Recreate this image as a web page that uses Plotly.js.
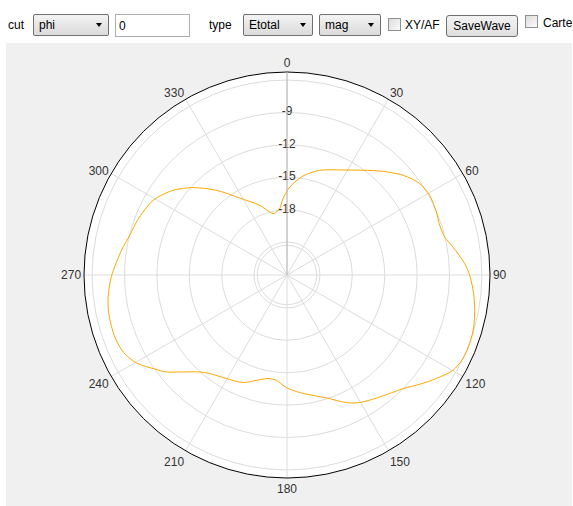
<!DOCTYPE html>
<html>
<head>
<meta charset="utf-8">
<script src="https://cdn.plot.ly/plotly-3.0.1.min.js"></script>
<style>
  html, body { margin: 0; padding: 0; background: #ffffff; }
  body { width: 573px; height: 506px; position: relative; overflow: hidden;
         font-family: "Liberation Sans", Arial, sans-serif; font-size: 12px; color: #000; }
  .lbl { position: absolute; line-height: 14px; }
  .sel { position: absolute; height: 22px; box-sizing: border-box; border: 1px solid #707070; border-radius: 2px;
         background: linear-gradient(#f4f4f4, #e6e6e6 50%, #dcdcdc); }
  .sel span { position: absolute; left: 5px; top: 3px; line-height: 14px; }
  .sel i { position: absolute; right: 6px; top: 8px; width: 0; height: 0;
           border-left: 3.5px solid transparent; border-right: 3.5px solid transparent; border-top: 4px solid #000; }
  .inp { position: absolute; height: 23px; box-sizing: border-box; border: 1px solid #abadb3; background: #fff; }
  .inp span { position: absolute; left: 3px; top: 4px; line-height: 14px; }
  .chk { position: absolute; width: 13px; height: 13px; box-sizing: border-box; border: 1px solid #8e8f8f;
         background: linear-gradient(135deg, #dcdcdc, #fbfbfb); }
  .btn { position: absolute; height: 22px; box-sizing: border-box; border: 1px solid #707070; border-radius: 3px;
         background: linear-gradient(#f2f2f2, #ebebeb 50%, #dddddd); text-align: center; line-height: 20px; }
  #panel { position: absolute; left: 6px; top: 43px; width: 566px; height: 463px; background: #f0f0f0; }
</style>
</head>
<body>
<div class="lbl" style="left:8px; top:18px;">cut</div>
<div class="sel" style="left:33px; top:14px; width:76px;"><span>phi</span><i></i></div>
<div class="inp" style="left:115px; top:14px; width:75px;"><span>0</span></div>
<div class="lbl" style="left:209px; top:18px;">type</div>
<div class="sel" style="left:243px; top:14px; width:70px;"><span>Etotal</span><i></i></div>
<div class="sel" style="left:319px; top:14px; width:62px;"><span>mag</span><i></i></div>
<div class="chk" style="left:388px; top:18px;"></div>
<div class="lbl" style="left:405px; top:18px;">XY/AF</div>
<div class="btn" style="left:446px; top:15px; width:72px;">SaveWave</div>
<div class="chk" style="left:525px; top:15px;"></div>
<div class="lbl" style="left:543px; top:16px;">Carte</div>

<div id="panel"></div>

<script>
// Pattern data: angle (deg, clockwise from top) and magnitude (dB)
const thetaDeg = [1.8, 9.2, 17.3, 29.5, 41.7, 49.3, 55.4, 60.8, 67.1, 72, 76.5, 80.4, 86.3, 90.1, 95.7,
  100.6, 105.6, 110.6, 115.4, 119.9, 124.7, 129.3, 134.4, 142.8, 150.3, 155, 162.2, 173.8, 180.3,
  185.7, 190.4, 196.2, 202.2, 210.3, 218.1, 222, 227.9, 231.2, 234.7, 239.7, 244.6, 250.2, 257.8,
  263, 269.5, 278.5, 284.2, 290.1, 299.1, 306.6, 312.9, 320.2, 328.4, 338.6, 347.2, 350.4, 353.7,
  357, 361.8];
const magDb = [-15.9, -14.76, -13.9, -12.88, -11.15, -9.88, -9.13, -8.92, -9.04, -9.18, -9.03, -8.47, -7.56, -7.13, -6.68,
  -6.37, -6.1, -5.98, -6.01, -6.33, -7.22, -8.1, -9.01, -9.86, -10.45, -11.01, -12.09, -13.1, -13.62,
  -14.25, -14.3, -13.89, -13.29, -12.94, -12.45, -11.97, -10.66, -9.72, -9.0, -7.9, -7.3, -7.1, -7.16,
  -7.36, -7.79, -8.55, -9.03, -9.3, -9.85, -10.9, -12.16, -13.84, -15.68, -17.12, -18.22, -18.13, -17.87,
  -16.97, -15.9];

// Radial grid / tick labels
const radialTickVals = [-21.3, -21, -18, -15, -12, -9, -6];
const radialTickText = ['', '', '-18', '-15', '-12', '-9', ''];
const radialLabelVals = [-18, -15, -12, -9];
const radialLabelText = ['-18', '-15', '-12', '-9'];
const radialRange = [-24.05, -5.25];

// Angular ticks
const angTickVals = [0, 30, 60, 90, 120, 150, 180, 210, 240, 270, 300, 330];
const angTickText = ['0', '30', '60', '90', '120', '150', '180', '210', '240', '270', '300', '330'];

const traces = [
  {
    type: 'scatterpolar', mode: 'lines',
    theta: thetaDeg, r: magDb,
    line: { color: '#FFA500', width: 1, shape: 'spline', smoothing: 0.8 },
    hoverinfo: 'skip', showlegend: false
  },
  {
    type: 'scatterpolar', mode: 'text',
    theta: radialLabelVals.map(() => 0), r: radialLabelVals,
    text: radialLabelText, textposition: 'middle center',
    textfont: { family: 'Liberation Sans, Arial, sans-serif', size: 12, color: '#333' },
    hoverinfo: 'skip', showlegend: false, cliponaxis: false
  }
];

const layout = {
  width: 566, height: 463,
  margin: { l: 78, r: 82, t: 29, b: 28, pad: 0 },
  paper_bgcolor: '#f0f0f0',
  showlegend: false,
  font: { family: 'Liberation Sans, Arial, sans-serif', size: 12, color: '#333' },
  polar: {
    bgcolor: '#ffffff',
    domain: { x: [0, 1], y: [0, 1] },
    angularaxis: {
      rotation: 90, direction: 'clockwise',
      tickmode: 'array', tickvals: angTickVals, ticktext: angTickText,
      showline: true, linecolor: '#000000', linewidth: 1,
      showgrid: true, gridcolor: '#dcdcdc', gridwidth: 1,
      ticks: '', tickfont: { size: 12, color: '#333' }
    },
    radialaxis: {
      range: radialRange, angle: 90,
      tickmode: 'array', tickvals: radialTickVals, ticktext: radialTickText,
      showticklabels: false, ticks: '',
      showline: true, linecolor: '#b8b8b8', linewidth: 1,
      showgrid: true, gridcolor: '#dcdcdc', gridwidth: 1
    }
  }
};

Plotly.newPlot('panel', traces, layout, { displayModeBar: false, staticPlot: true });
</script>
</body>
</html>
